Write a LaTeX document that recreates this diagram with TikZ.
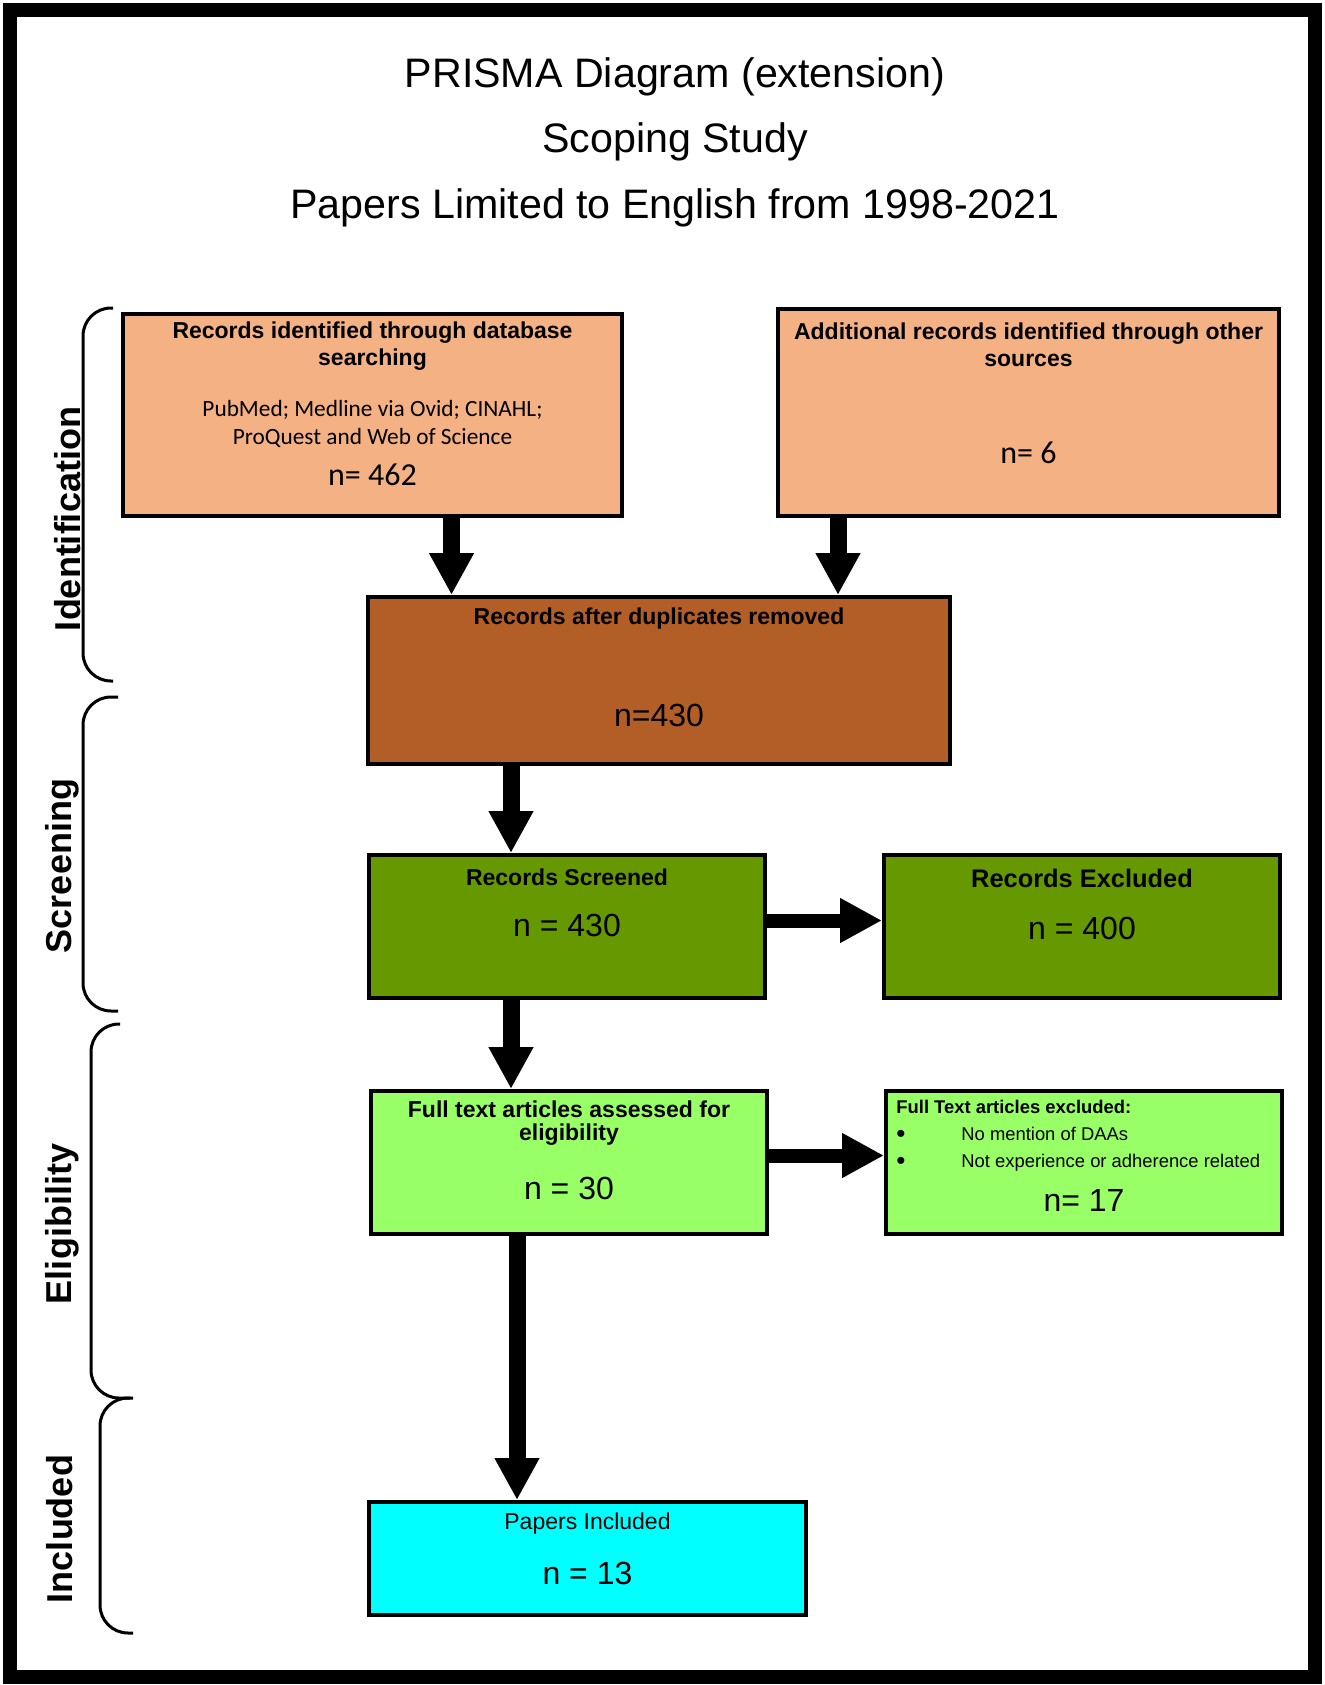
\documentclass[tikz,border=0pt]{standalone}
\usepackage{fontspec}
\setmainfont{Liberation Sans}
\newfontfamily\calibri{Carlito}
\definecolor{peach}{HTML}{F4B183}
\definecolor{rust}{HTML}{B35E27}
\definecolor{olive}{HTML}{669900}
\definecolor{lime}{HTML}{99FF66}
\definecolor{aqua}{HTML}{00FFFF}
\usetikzlibrary{positioning,arrows.meta}
\newcommand{\bigdot}{\makebox[32.5pt][l]{\raisebox{-1pt}{\fontsize{13}{13}\selectfont\textbullet}}}

\begin{document}
\begin{tikzpicture}[
        x=0.5pt, y=-0.5pt,
        box/.style={draw=black, line width=2.2pt, inner sep=0pt},
        sm/.style={minimum width=197.8pt, minimum height=71.3pt},
        hd/.style={font=\bfseries\fontsize{11.5}{13.5}\selectfont, align=center},
        num/.style={font=\fontsize{16}{19}\selectfont},
        cnum/.style={font=\calibri\fontsize{16}{19}\selectfont},
        arr/.style={-{Triangle[width=21pt, length=21pt]}, line width=8.5pt},
        brk/.style={line width=1.5pt, rounded corners=14pt},
        phase/.style={rotate=90, anchor=base, font=\bfseries\fontsize{18}{21}\selectfont}
      ]
        \useasboundingbox (0,0) rectangle (1324,1685);
        \draw[line width=7pt] (10,10) rectangle (1315,1677);
        \node[font=\fontsize{20.6}{32.75}\selectfont, align=center] (title) at (675,142)
          {PRISMA Diagram (extension)\\Scoping Study\\Papers Limited to English from 1998-2021};

        % identification
        \node[box, fill=peach, minimum width=249.3pt, minimum height=100.8pt] (b1) at (372.5,415) {};
        \node[box, fill=peach, minimum width=250.3pt, minimum height=103.3pt,
              above right=0pt and 76pt of b1.south east] (b2) {};
        \node[hd] (b1t) at ([yshift=-17.3pt]b1.north) {Records identified through database\\searching};
        \node[font=\calibri\fontsize{11.65}{14}\selectfont, align=center] (b1s) at ([yshift=-56pt]b1.north)
          {PubMed; Medline via Ovid; CINAHL;\\ProQuest and Web of Science};
        \node[cnum] (b1n) at ([yshift=-81.5pt]b1.north) {n= 462};
        \node[hd] (b2t) at ([yshift=-19pt]b2.north) {Additional records identified through other\\sources};
        \node[cnum] (b2n) at ([yshift=-73pt]b2.north) {n= 6};

        \node[box, fill=rust, minimum width=290.8pt, minimum height=83.3pt,
              below right=38.5pt and 122.5pt of b1.south west] (b3) {};
        \node[hd] (b3t) at ([yshift=-12pt]b3.north) {Records after duplicates removed};
        \node[num] (b3n) at ([yshift=-60pt]b3.north) {n=430};
        \draw[arr] ([xshift=-103.75pt]b3.north |- b1.south) -- ([xshift=-103.75pt]b3.north);
        \draw[arr] ([xshift=89.5pt]b3.north |- b2.south) -- ([xshift=89.5pt]b3.north);

        % screening
        \node[box, sm, fill=olive, below right=43.5pt and 0.5pt of b3.south west] (b4) {};
        \node[box, sm, fill=olive, right=57.5pt of b4] (b5) {};
        \node[hd] (b4t) at ([yshift=-12pt]b4.north) {Records Screened};
        \node[num] (b4n) at ([yshift=-36pt]b4.north) {n = 430};
        \node[hd, font=\bfseries\fontsize{12.7}{15}\selectfont] (b5t) at ([yshift=-12.5pt]b5.north) {Records Excluded};
        \node[num] (b5n) at ([yshift=-37.5pt]b5.north) {n = 400};
        \draw[arr] ([xshift=-28pt]b4.north |- b3.south) -- ([xshift=-28pt]b4.north);
        \draw[arr, line width=7pt] ([yshift=3pt]b4.east) -- ([yshift=3pt]b4.east -| b5.west);

        % eligibility
        \node[box, sm, fill=lime, below right=44.5pt and 1pt of b4.south west] (b6) {};
        \node[box, sm, fill=lime, right=57.5pt of b6] (b7) {};
        \node[hd, font=\bfseries\fontsize{11.5}{11.5}\selectfont] (b6t) at ([yshift=-17.25pt]b6.north)
          {Full text articles assessed for\\eligibility};
        \node[num] (b6n) at ([yshift=-49.5pt]b6.north) {n = 30};
        \node[anchor=north west, align=left, inner sep=0pt, font=\fontsize{9.2}{13.5}\selectfont] (b7t)
          at ([xshift=6pt, yshift=-5.6pt]b7.north west)
          {\textbf{Full Text articles excluded:}\\
           \bigdot No mention of DAAs\\
           \bigdot Not experience or adherence related};
        \node[num] (b7n) at ([yshift=-55.5pt]b7.north) {n= 17};
        \draw[arr] ([xshift=-29pt]b6.north |- b4.south) -- ([xshift=-29pt]b6.north);
        \draw[arr, line width=7pt] ([yshift=3.5pt]b6.east) -- ([yshift=3.5pt]b6.east -| b7.west);

        % included
        \node[box, fill=aqua, minimum width=218.3pt, minimum height=56.3pt,
              below right=132pt and -1pt of b6.south west] (b8) {};
        \node[font=\fontsize{11.5}{13.5}\selectfont] (b8t) at ([yshift=-12pt]b8.north) {Papers Included};
        \node[num] (b8n) at ([yshift=-36.5pt]b8.north) {n = 13};
        \draw[arr] ([xshift=-35.25pt]b8.north |- b6.south) -- ([xshift=-35.25pt]b8.north);

        % phases
        \draw[brk] (113,308) -- (83,308) -- (83,681) -- (113,681);
        \draw[brk] (118,697) -- (83,697) -- (83,1011) -- (118,1011);
        \draw[brk] (120,1024) -- (91,1024) -- (91,1398) -- (130,1398);
        \draw[brk] (133,1398) -- (100,1398) -- (100,1633) -- (133,1633);
        \node[phase] (ph1) at (80,519) {Identification};
        \node[phase] (ph2) at (71,866) {Screening};
        \node[phase] (ph3) at (71,1224) {Eligibility};
        \node[phase] (ph4) at (72,1529) {Included};
      \end{tikzpicture}
\end{document}
